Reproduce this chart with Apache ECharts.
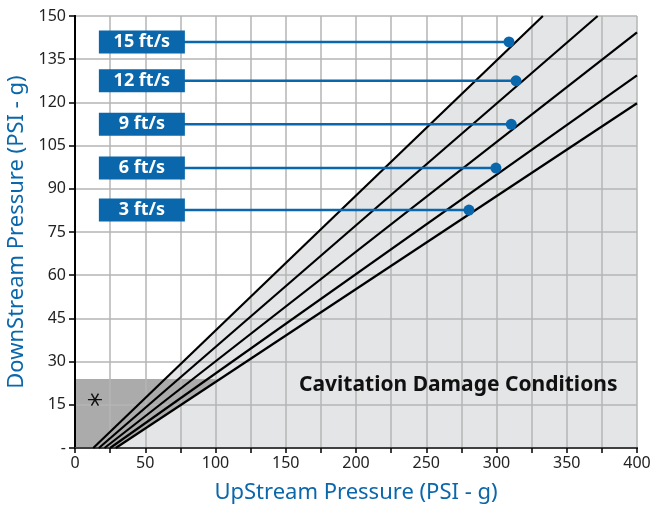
<!DOCTYPE html>
<html>
<head>
<meta charset="utf-8">
<script src="https://cdn.jsdelivr.net/npm/echarts@6/dist/echarts.min.js"></script>
<style>
  html, body { margin: 0; padding: 0; background: #fff; }
  #chart { width: 654px; height: 506px; }
</style>
</head>
<body>
<div id="chart"></div>
<script>
// velocity labels and where their leader lines end
var speeds = ["15 ft/s", "12 ft/s", "9 ft/s", "6 ft/s", "3 ft/s"];
var speedY = [141.0, 127.5, 112.4, 97.2, 82.6];
var dotX = [308.9, 313.9, 310.5, 299.6, 280.4];
var labelX = 47.6;

// cavitation limit lines (start on x axis, end on chart border)
var diagStart = [[13, 0], [17, 0], [21, 0], [25, 0], [29, 0]];
var diagEnd = [[333, 150], [372, 150], [400, 144.3], [400, 129.4], [400, 119.7]];

// shaded zones
var damageZone = [[13, 0], [333, 150], [400, 150], [400, 0]];
var markedZone = [[0, 0], [0, 24], [103, 24], [29, 0]];
var marker = [[14.2, 16.8]];

var blue = "#0a67ab";
var font = '"Noto Sans", sans-serif';

var myChart = echarts.init(document.getElementById("chart"));

function zone(points, color) {
  return {
    type: "custom",
    silent: true,
    z: 1,
    data: [[0, 0]],
    renderItem: function (params, api) {
      return {
        type: "polygon",
        shape: { points: points.map(function (p) { return api.coord(p); }) },
        style: { fill: color }
      };
    }
  };
}

var series = [zone(damageZone, "#e4e5e7"), zone(markedZone, "#ababab")];

// black limit lines
diagStart.forEach(function (s, i) {
  series.push({
    type: "line",
    z: 5,
    silent: true,
    symbol: "none",
    data: [s, diagEnd[i]],
    lineStyle: { color: "#000", width: 2.2 }
  });
});

// blue leader lines with dot at the end
speeds.forEach(function (name, i) {
  series.push({
    type: "line",
    z: 6,
    silent: true,
    symbol: "none",
    data: [[labelX, speedY[i]], [dotX[i], speedY[i]]],
    lineStyle: { color: blue, width: 2.5 }
  });
  series.push({
    type: "scatter",
    z: 7,
    silent: true,
    symbolSize: 11,
    data: [[dotX[i], speedY[i]]],
    itemStyle: { color: blue, opacity: 1 }
  });
});

// label boxes
series.push({
  type: "scatter",
  z: 8,
  silent: true,
  symbol: "rect",
  symbolSize: [86, 23],
  itemStyle: { color: blue, opacity: 1 },
  data: speeds.map(function (s, i) { return { value: [labelX, speedY[i]], name: s }; }),
  label: {
    show: true,
    position: "inside",
    formatter: "{b}",
    color: "#fff",
    fontFamily: font,
    fontWeight: "bold",
    fontSize: 18
  }
});

// asterisk
series.push({
  type: "scatter",
  z: 8,
  silent: true,
  symbol: "path://M-10,0L10,0M-5,-8.66L5,8.66M-5,8.66L5,-8.66",
  symbolSize: [14, 12],
  itemStyle: { color: "none", borderColor: "#111", borderWidth: 1.3, opacity: 1 },
  data: marker
});

myChart.setOption({
  animation: false,
  grid: { left: 75, right: 17, top: 16, bottom: 58, outerBoundsMode: "none" },
  xAxis: [
    {
      type: "value",
      min: 0,
      max: 400,
      interval: 25,
      z: 3,
      name: "UpStream Pressure (PSI - g)",
      nameLocation: "middle",
      nameGap: 34,
      nameTextStyle: { color: blue, fontSize: 22, fontFamily: font },
      axisLine: { lineStyle: { color: "#000", width: 2 } },
      axisTick: { length: 5, lineStyle: { color: "#000", width: 1.5 } },
      axisLabel: {
        color: "#222",
        fontSize: 16,
        fontFamily: font,
        margin: 7,
        formatter: function (v) { return v % 50 === 0 ? v : ""; }
      },
      splitLine: { lineStyle: { color: "#b5b5b5", width: 1.5 } }
    },
    {
      type: "value",
      position: "top",
      min: 0,
      max: 400,
      z: 3,
      axisLine: { show: true, lineStyle: { color: "#555", width: 1.5 } },
      axisTick: { show: false },
      axisLabel: { show: false },
      splitLine: { show: false }
    }
  ],
  yAxis: [
    {
      type: "value",
      min: 0,
      max: 150,
      interval: 15,
      z: 3,
      name: "DownStream Pressure (PSI - g)",
      nameLocation: "middle",
      nameGap: 45,
      nameTextStyle: { color: blue, fontSize: 22, fontFamily: font },
      axisLine: { show: true, lineStyle: { color: "#000", width: 2 } },
      axisTick: { show: true, length: 6, lineStyle: { color: "#000", width: 1.5 } },
      axisLabel: {
        color: "#222",
        fontSize: 16,
        fontFamily: font,
        margin: 9,
        formatter: function (v) { return v === 0 ? "-" : v; }
      },
      splitLine: { lineStyle: { color: "#b5b5b5", width: 1.5 } }
    },
    {
      type: "value",
      position: "right",
      min: 0,
      max: 150,
      z: 3,
      axisLine: { show: true, lineStyle: { color: "#000", width: 2 } },
      axisTick: { show: false },
      axisLabel: { show: false },
      splitLine: { show: false }
    }
  ],
  graphic: [
    {
      type: "text",
      left: 299,
      top: 375,
      z: 10,
      style: {
        text: "Cavitation Damage Conditions",
        font: 'bold 21px "Noto Sans", sans-serif',
        fill: "#111"
      }
    }
  ],
  series: series
});
</script>
</body>
</html>
